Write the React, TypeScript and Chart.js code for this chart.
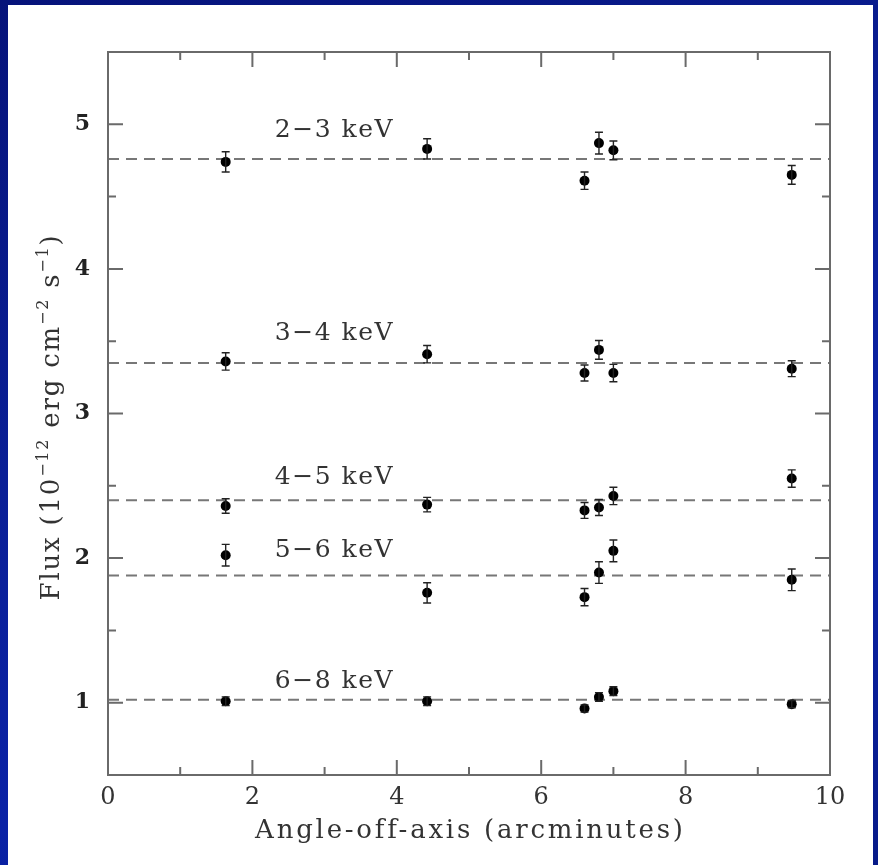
import React, { useEffect, useRef } from 'react';
import { Chart, registerables } from 'chart.js';

Chart.register(...registerables);

// ---- data ----
const angles = [1.63, 4.42, 6.6, 6.8, 7.0, 9.47];
const bandLabels = ['2−3 keV', '3−4 keV', '4−5 keV', '5−6 keV', '6−8 keV'];
const flux23 = [4.74, 4.83, 4.61, 4.87, 4.82, 4.65];
const err23 = [0.07, 0.07, 0.06, 0.075, 0.065, 0.065];
const flux34 = [3.36, 3.41, 3.28, 3.44, 3.28, 3.31];
const err34 = [0.06, 0.06, 0.055, 0.065, 0.06, 0.055];
const flux45 = [2.36, 2.37, 2.33, 2.35, 2.43, 2.55];
const err45 = [0.05, 0.05, 0.055, 0.055, 0.06, 0.06];
const flux56 = [2.02, 1.76, 1.73, 1.9, 2.05, 1.85];
const err56 = [0.075, 0.07, 0.06, 0.075, 0.075, 0.075];
const flux68 = [1.01, 1.01, 0.96, 1.04, 1.08, 0.99];
const err68 = [0.03, 0.03, 0.025, 0.03, 0.03, 0.025];
const meanLevels = [4.76, 3.35, 2.4, 1.88, 1.02];
const xTickValues = [0, 2, 4, 6, 8, 10];
const xTickLabels = ['0', '2', '4', '6', '8', '10'];
const yTickValues = [1, 2, 3, 4, 5];
const yTickLabels = ['1', '2', '3', '4', '5'];
const xTitle = 'Angle-off-axis (arcminutes)';
const yTitleParts: [string, boolean][] = [
  ['Flux (10', false], ['−12', true], [' erg cm', false], ['−2', true], [' s', false], ['−1', true], [')', false],
];

const bandFlux = [flux23, flux34, flux45, flux56, flux68];
const bandErr = [err23, err34, err45, err56, err68];
// label anchors (data coordinates)
const labelAnchorX = 2.31;
const labelAnchorY = [4.955, 3.55, 2.555, 2.05, 1.15];

const FONT = '"DejaVu Serif", serif';

const errorBarPlugin = {
  id: 'errorBars',
  afterDatasetsDraw(chart: any) {
    const { ctx, scales } = chart;
    const x = scales.x, y = scales.y;
    ctx.save();
    ctx.strokeStyle = '#222';
    ctx.lineWidth = 1.4;
    bandFlux.forEach((fl, b) => {
      fl.forEach((v, i) => {
        const px = x.getPixelForValue(angles[i]);
        const y1 = y.getPixelForValue(v - bandErr[b][i]);
        const y2 = y.getPixelForValue(v + bandErr[b][i]);
        ctx.beginPath();
        ctx.moveTo(px, y1); ctx.lineTo(px, y2);
        ctx.moveTo(px - 4, y1); ctx.lineTo(px + 4, y1);
        ctx.moveTo(px - 4, y2); ctx.lineTo(px + 4, y2);
        ctx.stroke();
      });
    });
    ctx.restore();
  },
};

const framePlugin = {
  id: 'frame',
  afterDraw(chart: any) {
    const { ctx, chartArea: a, scales } = chart;
    const x = scales.x, y = scales.y;
    ctx.save();
    ctx.strokeStyle = '#6a6a6a';
    ctx.lineWidth = 2;
    ctx.strokeRect(a.left, a.top, a.right - a.left, a.bottom - a.top);
    ctx.beginPath();
    for (let v = 1; v < 10; v++) {
      const len = v % 2 === 0 ? 15 : 8;
      const px = x.getPixelForValue(v);
      ctx.moveTo(px, a.bottom); ctx.lineTo(px, a.bottom - len);
      ctx.moveTo(px, a.top); ctx.lineTo(px, a.top + len);
    }
    for (let k = 2; k < 11; k++) {
      const v = k / 2;
      const len = k % 2 === 0 ? 15 : 8;
      const py = y.getPixelForValue(v);
      ctx.moveTo(a.left, py); ctx.lineTo(a.left + len, py);
      ctx.moveTo(a.right, py); ctx.lineTo(a.right - len, py);
    }
    ctx.stroke();

    // band labels
    ctx.fillStyle = '#333';
    ctx.font = `25px ${FONT}`;
    ctx.textBaseline = 'middle';
    ctx.textAlign = 'left';
    (ctx as any).letterSpacing = '1.5px';
    bandLabels.forEach((t, i) => {
      ctx.fillText(t, x.getPixelForValue(labelAnchorX), y.getPixelForValue(labelAnchorY[i]));
    });

    // x title
    ctx.font = `26px ${FONT}`;
    (ctx as any).letterSpacing = '0px';
    const natural = ctx.measureText(xTitle).width;
    const ls = Math.max(0, (427 - natural) / (xTitle.length - 1));
    (ctx as any).letterSpacing = `${ls}px`;
    ctx.textAlign = 'center';
    ctx.textBaseline = 'middle';
    ctx.fillText(xTitle, (a.left + a.right) / 2 + ls / 2, 831);

    // y title
    const mainFont = `26px ${FONT}`;
    const supFont = `16px ${FONT}`;
    (ctx as any).letterSpacing = '0px';
    let total = 0;
    let chars = 0;
    yTitleParts.forEach(([t, sup]) => {
      ctx.font = sup ? supFont : mainFont;
      total += ctx.measureText(t).width;
      chars += t.length;
    });
    const yls = Math.max(0, (365 - total) / (chars - 1));
    (ctx as any).letterSpacing = `${yls}px`;
    let full = 0;
    yTitleParts.forEach(([t, sup]) => {
      ctx.font = sup ? supFont : mainFont;
      full += ctx.measureText(t).width;
    });
    ctx.translate(59, 417);
    ctx.rotate(-Math.PI / 2);
    ctx.textAlign = 'left';
    ctx.textBaseline = 'alphabetic';
    let cx = -full / 2;
    yTitleParts.forEach(([t, sup]) => {
      ctx.font = sup ? supFont : mainFont;
      ctx.fillText(t, cx, sup ? -11 : 0);
      cx += ctx.measureText(t).width;
    });
    ctx.restore();
  },
};

export default function App() {
  const ref = useRef<HTMLCanvasElement | null>(null);
  useEffect(() => {
    if (!ref.current) return;
    const pointSets = bandFlux.map((fl, b) => ({
      type: 'scatter' as const,
      label: bandLabels[b],
      data: angles.map((a, i) => ({ x: a, y: fl[i] })),
      pointRadius: 5,
      pointBackgroundColor: '#000',
      pointBorderWidth: 0,
      showLine: false,
      order: 0,
    }));
    const lineSets = meanLevels.map((m, b) => ({
      type: 'line' as const,
      label: bandLabels[b] + ' mean',
      data: [{ x: 0, y: m }, { x: 10, y: m }],
      borderColor: '#777',
      borderWidth: 2,
      borderDash: [11, 7],
      pointRadius: 0,
      fill: false,
      order: 1,
    }));
    const chart = new Chart(ref.current, {
      type: 'scatter',
      data: { datasets: [...pointSets, ...lineSets] as any },
      options: {
        animation: false,
        responsive: false,
        layout: { padding: { top: 52, right: 48, left: 0, bottom: 0 } },
        plugins: { legend: { display: false }, tooltip: { enabled: false } },
        scales: {
          x: {
            type: 'linear',
            min: 0,
            max: 10,
            grid: { display: false, drawTicks: false },
            border: { display: false },
            afterBuildTicks: (s: any) => { s.ticks = xTickValues.map((v) => ({ value: v })); },
            afterFit: (s: any) => { s.height = 90; },
            ticks: {
              padding: 8,
              color: '#333',
              font: { family: FONT, size: 24 },
              maxRotation: 0,
              callback: (v: any) => xTickLabels[xTickValues.indexOf(Number(v))] ?? '',
            },
          },
          y: {
            type: 'linear',
            min: 0.5,
            max: 5.5,
            grid: { display: false, drawTicks: false },
            border: { display: false },
            afterBuildTicks: (s: any) => { s.ticks = yTickValues.map((v) => ({ value: v })); },
            afterFit: (s: any) => { s.width = 108; },
            ticks: {
              padding: 18,
              color: '#222',
              font: { family: FONT, size: 22, weight: 'bold' },
              callback: (v: any) => yTickLabels[yTickValues.indexOf(Number(v))] ?? '',
            },
          },
        },
      },
      plugins: [errorBarPlugin, framePlugin],
    });
    return () => chart.destroy();
  }, []);

  return (
    <div
      style={{
        position: 'fixed',
        left: 0,
        top: 0,
        width: 878,
        height: 865,
        background: 'linear-gradient(160deg, #06137a 0%, #0a1f96 40%, #0a22a6 70%, #071a88 100%)',
        overflow: 'hidden',
      }}
    >
      <div style={{ position: 'absolute', left: 8, top: 5, width: 865, height: 860, background: '#fff' }} />
      <canvas ref={ref} width={878} height={865} style={{ position: 'absolute', left: 0, top: 0, display: 'block' }} />
    </div>
  );
}
